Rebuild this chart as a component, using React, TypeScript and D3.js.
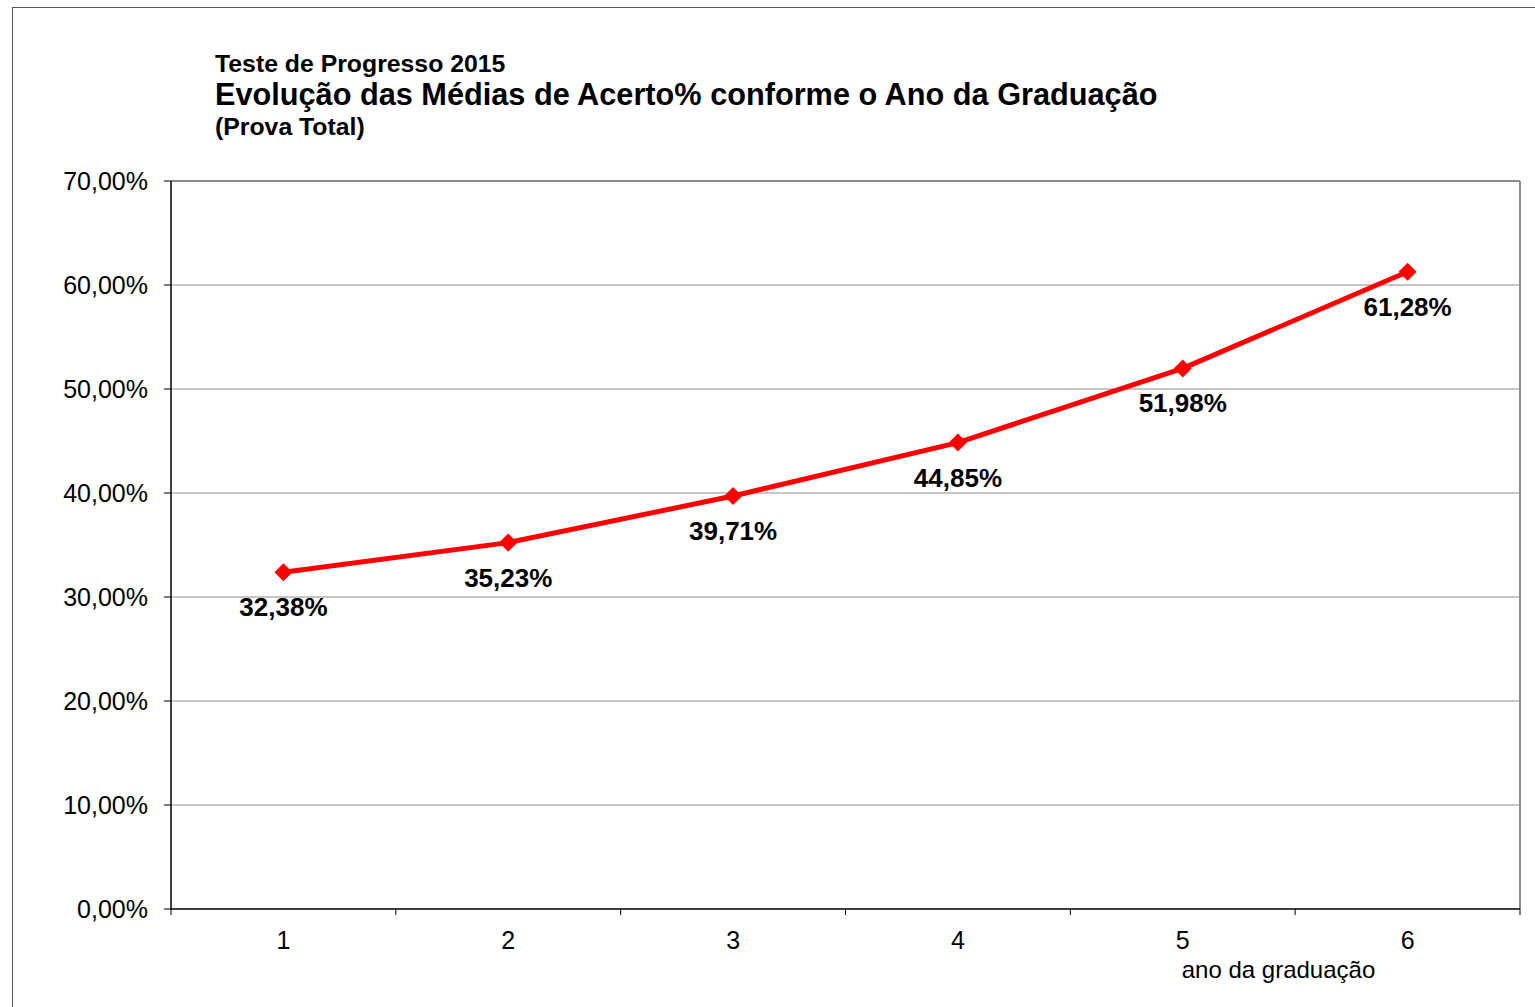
import React from "react";
import * as d3 from "d3";

const categories = ["1", "2", "3", "4", "5", "6"];
const values = [32.38, 35.23, 39.71, 44.85, 51.98, 61.28];
const valueLabels = ["32,38%", "35,23%", "39,71%", "44,85%", "51,98%", "61,28%"];
const yTicks = [0, 10, 20, 30, 40, 50, 60, 70];
const titleLines = ["Teste de Progresso 2015", "Evolução das Médias de Acerto% conforme o Ano da Graduação", "(Prova Total)"];
const xAxisTitle = "ano da graduação";

const W = 1535, H = 1007;
const left = 171, right = 1520, top = 181, bottom = 909;
const FONT = "'Liberation Sans', Arial, sans-serif";

export default function App() {
  const x = d3.scaleBand<string>().domain(categories).range([left, right]).padding(0);
  const y = d3.scaleLinear().domain([0, 70]).range([bottom, top]);
  const cx = (c: string) => (x(c) as number) + x.bandwidth() / 2;
  const line = d3.line<number>().x((_, i) => cx(categories[i])).y((v) => y(v));
  const fmt = (v: number) => v.toFixed(2).replace(".", ",") + "%";
  const boundaries = categories.map((c) => x(c) as number).concat([right]);
  return (
    <svg width={W} height={H} style={{ position: "absolute", left: 0, top: 0 }} fontFamily={FONT}>
      <rect x={0} y={0} width={W} height={H} fill="#fff" />
      <rect x={12.5} y={7.5} width={W + 10} height={H + 10} fill="none" stroke="#555" strokeWidth={1} />
      {yTicks.filter((t) => t > 0).map((t) => (
        <line key={t} x1={left} x2={right} y1={y(t)} y2={y(t)} stroke="#8c8c8c" strokeWidth={1} />
      ))}
      <line x1={left} x2={right} y1={top} y2={top} stroke="#8c8c8c" strokeWidth={2} />
      <line x1={right} x2={right} y1={top} y2={bottom} stroke="#8c8c8c" strokeWidth={2} />
      <line x1={left} x2={left} y1={top} y2={bottom + 1} stroke="#000" strokeWidth={1.5} />
      <line x1={left} x2={right} y1={bottom} y2={bottom} stroke="#000" strokeWidth={1.5} />
      {yTicks.map((t) => (
        <g key={t}>
          <line x1={left - 7} x2={left} y1={y(t)} y2={y(t)} stroke="#000" strokeWidth={1} />
          <text x={148} y={y(t)} dy="0.36em" textAnchor="end" fontSize={25} fill="#000">{fmt(t)}</text>
        </g>
      ))}
      {boundaries.map((b, i) => (
        <line key={i} x1={b} x2={b} y1={bottom} y2={bottom + 6} stroke="#000" strokeWidth={1} />
      ))}
      {categories.map((c) => (
        <text key={c} x={cx(c)} y={949} textAnchor="middle" fontSize={25} fill="#000">{c}</text>
      ))}
      <text x={1278.5} y={978} textAnchor="middle" fontSize={24} fill="#000">{xAxisTitle}</text>
      <path d={line(values) || ""} fill="none" stroke="#ff0000" strokeWidth={5} strokeLinejoin="round" />
      {values.map((v, i) => {
        const px = cx(categories[i]), py = y(v);
        const s = 8;
        return (
          <g key={i}>
            <path d={`M${px},${py - s}L${px + s},${py}L${px},${py + s}L${px - s},${py}Z`} fill="#ff0000" stroke="#ff0000" strokeWidth={1.5} strokeLinejoin="round" />
            <text x={px} y={py + 44} textAnchor="middle" fontSize={26} fontWeight="bold" fill="#000">{valueLabels[i]}</text>
          </g>
        );
      })}
      <text x={215} y={72} fontSize={24.8} fontWeight="bold" fill="#000">{titleLines[0]}</text>
      <text x={215} y={105} fontSize={30.7} fontWeight="bold" fill="#000">{titleLines[1]}</text>
      <text x={215} y={135} fontSize={24.8} fontWeight="bold" fill="#000">{titleLines[2]}</text>
    </svg>
  );
}
